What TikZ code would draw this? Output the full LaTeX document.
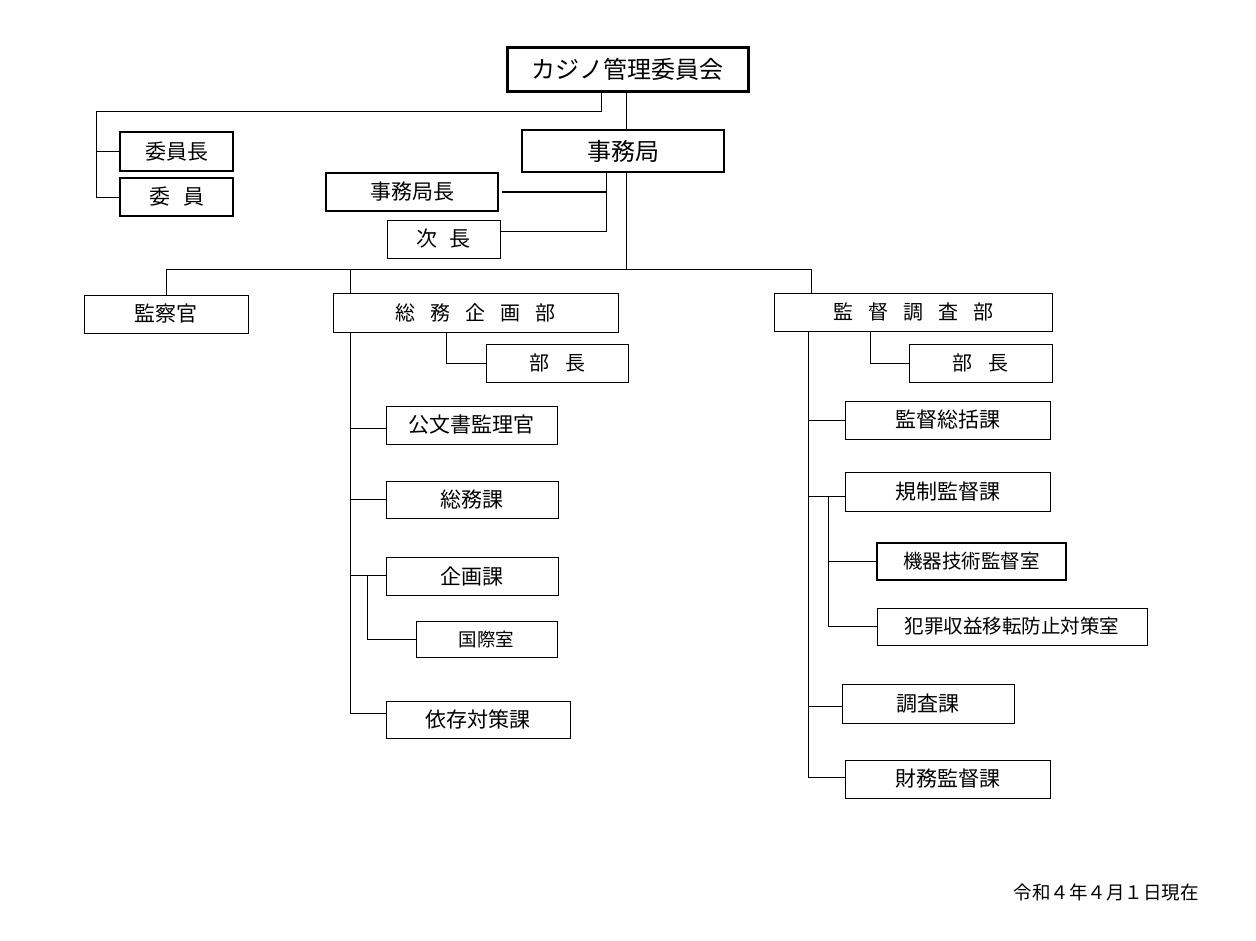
\documentclass[tikz,border=0pt]{standalone}
\usepackage{fontspec}
\setmainfont{Noto Sans CJK JP}
\newcommand\fs[1]{\fontsize{#1}{#1}\selectfont}
\newcommand\gapx[1]{\hspace{#1pt}}
\tikzset{
 box/.style={draw, rectangle, inner sep=0pt, outer sep=0pt, line width=1pt, font=\fs{21}},
 conn/.style={line width=1pt},
 thickconn/.style={line width=2.5pt},
}
\newcommand\bx[7][]{\node[box,#1,minimum width={#5-#3},minimum height={#6-#4}] (#2) at ({(#3+#5)/2},{(#4+#6)/2}) {#7};}
\begin{document}
\begin{tikzpicture}[x=1pt,y=-1pt]
\useasboundingbox (0,0) rectangle (1256,940);
% boxes
\bx[font=\fs{24}, line width=3pt]{board}{507}{47}{748}{91}{カジノ管理委員会}
\bx[line width=2.5pt]{chair}{120}{132}{233}{171}{委員長}
\bx[line width=2.5pt]{member}{120}{178}{233}{216}{委\gapx{13}員}
\bx[font=\fs{24}, line width=2pt]{office}{522}{130}{724}{172}{事務局}
\bx[line width=2.5pt]{director}{326}{173}{498}{211}{事務局長}
\bx{deputy}{387}{220}{500}{258}{次\gapx{12}長}
\bx{inspector}{84}{295}{248}{333}{監察官}
\bx[font=\fs{20}]{gen}{333}{293}{618}{332}{総\gapx{15}務\gapx{15}企\gapx{15}画\gapx{15}部}
\bx[font=\fs{20}]{gchief}{486}{344}{628}{382}{部\gapx{16}長}
\bx{archive}{386}{406}{557}{444}{公文書監理官}
\bx{gaffairs}{386}{481}{558}{518}{総務課}
\bx{planning}{386}{557}{558}{595}{企画課}
\bx[font=\fs{18.5}]{intl}{416}{621}{557}{657}{国際室}
\bx{dep}{386}{701}{570}{738}{依存対策課}
\bx[font=\fs{20}]{sup}{774}{293}{1052}{331}{監\gapx{15}督\gapx{15}調\gapx{15}査\gapx{15}部}
\bx[font=\fs{20}]{schief}{909}{344}{1052}{382}{部\gapx{16}長}
\bx{oversight}{845}{401}{1050}{439}{監督総括課}
\bx{regulation}{845}{472}{1050}{511}{規制監督課}
\bx[font=\fs{19.5},line width=2pt]{equip}{877}{543}{1066}{580}{機器技術監督室}
\bx[font=\fs{19.5}]{crime}{877}{608}{1147}{645}{犯罪収益移転防止対策室}
\bx{survey}{842}{684}{1014}{723}{調査課}
\bx{finance}{845}{760}{1050}{798}{財務監督課}
\node[anchor=east, inner sep=0pt, font=\fs{18.5}] (date) at (1199,892) {令和４年４月１日現在};
% connectors: committee members
\coordinate (c1) at (601,111);
\coordinate (cL) at (96,111);
\draw[conn] (c1 |- board.south) -- (c1) -- (cL) |- (member.west);
\draw[conn] (cL |- chair.west) -- (chair.west);
% board to office
\coordinate (c2) at (626,0);
\draw[conn] (c2 |- board.south) -- (c2 |- office.north);
% office to director/deputy
\coordinate (c3) at (606,231);
\draw[conn] (c3 |- office.south) -- (c3) -- (c3 -| deputy.east);
\draw[thickconn] ([xshift=4pt]director.east) -- (director.east -| c3);
% office to departments
\coordinate (hC) at (626,269);
\coordinate (hL) at (166,269);
\coordinate (hM) at (350,269);
\coordinate (hR) at (811,269);
\draw[conn] (hC |- office.south) -- (hC);
\draw[conn] (hL |- inspector.north) -- (hL) -- (hR) -- (hR |- sup.north);
\draw[conn] (hM) -- (hM |- gen.north);
% general affairs dept
\coordinate (gT) at (350,713);
\draw[conn] (gT |- gen.south) -- (gT) -- (gT -| dep.west);
\coordinate (g1) at (350,428);
\draw[conn] (g1) -- (g1 -| archive.west);
\coordinate (g2) at (350,499);
\draw[conn] (g2) -- (g2 -| gaffairs.west);
\coordinate (g3) at (350,575);
\draw[conn] (g3) -- (g3 -| planning.west);
\coordinate (g4) at (367,575);
\draw[conn] (g4) |- (intl.west);
\coordinate (g5) at (446,0);
\draw[conn] (g5 |- gen.south) |- (gchief.west);
% supervision dept
\coordinate (sT) at (808,777);
\draw[conn] (sT |- sup.south) -- (sT) -- (sT -| finance.west);
\coordinate (s1) at (808,420);
\draw[conn] (s1) -- (s1 -| oversight.west);
\coordinate (s2) at (808,496);
\draw[conn] (s2) -- (s2 -| regulation.west);
\coordinate (s3) at (828,496);
\draw[conn] (s3) |- (crime.west);
\draw[conn] (s3 |- equip.west) -- (equip.west);
\coordinate (s4) at (808,706);
\draw[conn] (s4) -- (s4 -| survey.west);
\coordinate (s5) at (870,0);
\draw[conn] (s5 |- sup.south) |- (schief.west);
\end{tikzpicture}
\end{document}
